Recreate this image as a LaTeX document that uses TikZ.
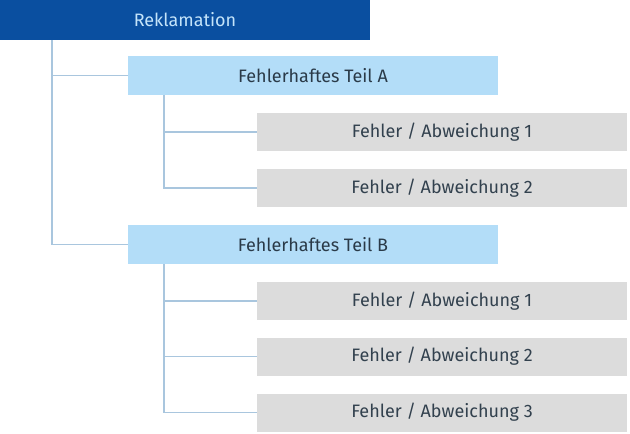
\documentclass[tikz,border=0pt]{standalone}
\usepackage{fontspec}
\setmainfont{Fira Sans}
\definecolor{darkblue}{HTML}{0A4FA0}
\definecolor{lightblue}{HTML}{B3DDF8}
\definecolor{rootText}{HTML}{C4E4FA}
\definecolor{errgray}{HTML}{DCDCDC}
\definecolor{linecol}{HTML}{A9C6DE}
\definecolor{textdark}{HTML}{2A3A48}
\begin{document}
\begin{tikzpicture}[x=1pt, y=-1pt, font=\fontsize{18}{20}\selectfont]
		\tikzset{
		    root/.style= {fill=darkblue, text=rootText, minimum width=370pt, minimum height=40pt, inner sep=0pt},
		    part/.style= {fill=lightblue, text=textdark, minimum width=370pt, minimum height=39pt, inner sep=0pt},
		    fault/.style= {fill=errgray, text=textdark!90!gray, minimum width=370pt, minimum height=38pt, inner sep=0pt},
		    link/.style= {draw=linecol, line width=1.2pt},
		}
		
		\useasboundingbox (0,0) rectangle (630,434);
		\node[root] (rek) at (185, 20) {Reklamation};
		
		\node[part] (ta) at (313, 75.5) {Fehlerhaftes Teil A};
		\node[fault] (ta1) at (442, 132) {Fehler / Abweichung 1};
		\node[fault] (ta2) at (442, 188) {Fehler / Abweichung 2};
		
		\node[part] (tb) at (313, 244.5) {Fehlerhaftes Teil B};
		\node[fault] (tb1) at (442, 301) {Fehler / Abweichung 1};
		\node[fault] (tb2) at (442, 356.5) {Fehler / Abweichung 2};
		\node[fault] (tb3) at (442, 412.5) {Fehler / Abweichung 3};
		
		\draw[link]
		(rek.south -| 52,0) |- (ta.west)
		(rek.south -| 52,0) |- (tb.west)
		
		(ta.south -| 164,0) |- (ta1.west)
		(ta.south -| 164,0) |- (ta2.west)
		
		(tb.south -| 164,0) |- (tb1.west)
		(tb.south -| 164,0) |- (tb2.west)
		(tb.south -| 164,0) |- (tb3.west);
	\end{tikzpicture}
\end{document}
